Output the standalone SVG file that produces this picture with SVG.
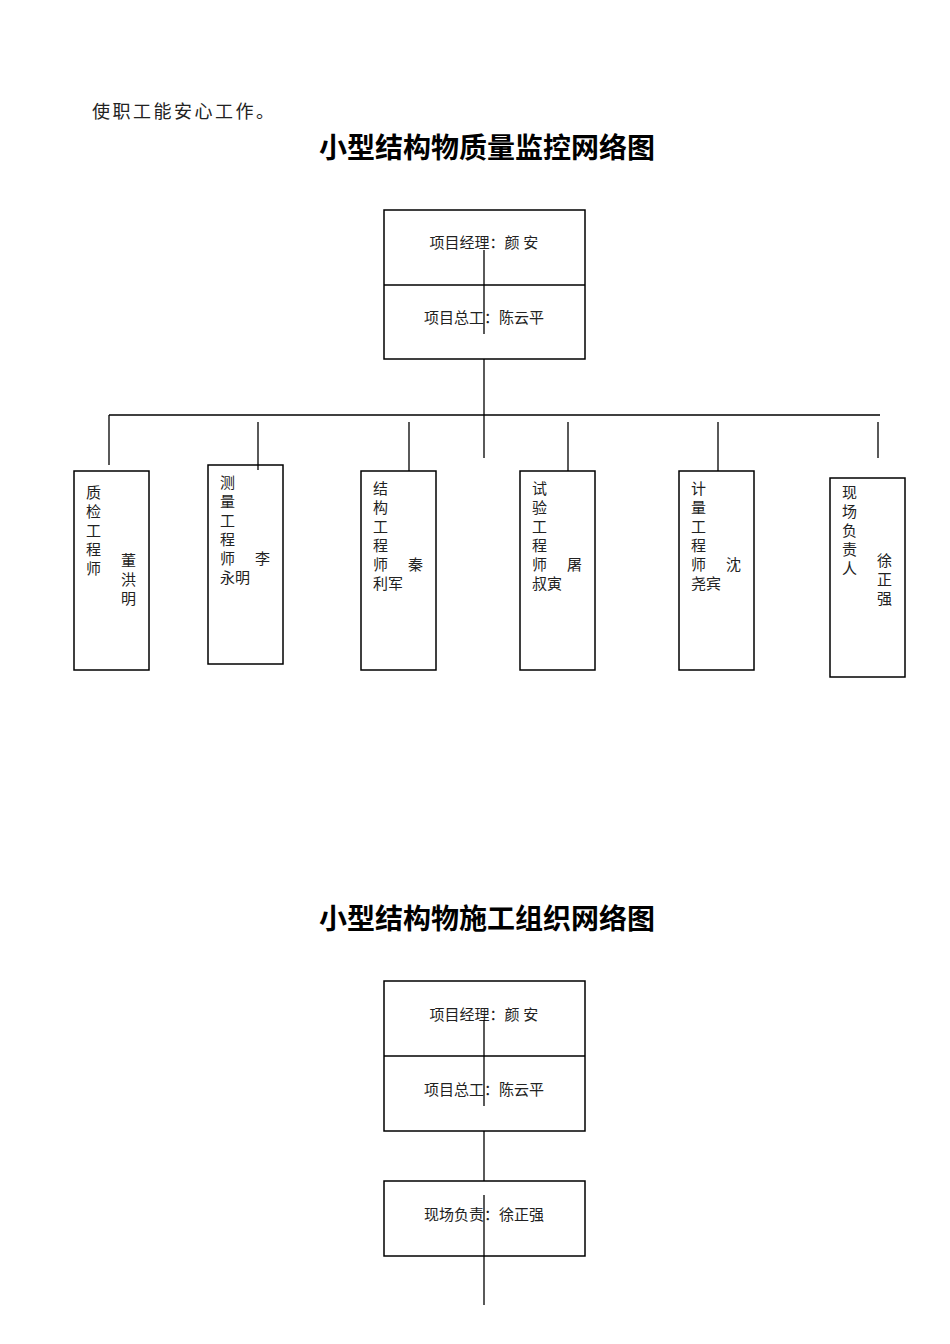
<svg xmlns="http://www.w3.org/2000/svg" width="950" height="1344" viewBox="0 0 950 1344">
<style>
.b{fill:#fff;stroke:#000;stroke-width:1.5}
.t{font-family:"Liberation Serif","Noto Sans CJK SC",serif;font-size:15px;fill:#222}
.h{font-family:"Liberation Serif","Noto Sans CJK SC",serif;font-size:28px;font-weight:bold;text-anchor:middle}
.c line{stroke:#000;stroke-width:1.3}
</style>
<rect width="950" height="1344" fill="#fff"/>
<text x="92" y="118" style="font-family:'Noto Sans CJK SC',sans-serif;font-size:18px;letter-spacing:2.5px;fill:#222">使职工能安心工作。</text>
<text x="487" y="158" class="h">小型结构物质量监控网络图</text>
<text x="487" y="929" class="h">小型结构物施工组织网络图</text>
<g id="top1"><rect class="b" x="384" y="210" width="201" height="149"/><line x1="384" y1="285" x2="585" y2="285" stroke="#000" stroke-width="1.5"/>
<text class="t" x="484" y="248" text-anchor="middle">项目经理：颜 安</text>
<text class="t" x="484" y="323" text-anchor="middle">项目总工：陈云平</text></g>
<g id="n1"><rect class="b" x="74" y="471" width="75" height="199"/>
<text class="t" x="86" y="498">质</text><text class="t" x="86" y="517">检</text><text class="t" x="86" y="536">工</text><text class="t" x="86" y="555">程</text><text class="t" x="86" y="574">师</text>
<text class="t" x="121" y="566">董</text><text class="t" x="121" y="585">洪</text><text class="t" x="121" y="604">明</text></g>
<g id="n2"><rect class="b" x="208" y="465" width="75" height="199"/>
<text class="t" x="220" y="488">测</text><text class="t" x="220" y="507">量</text><text class="t" x="220" y="526">工</text><text class="t" x="220" y="545">程</text><text class="t" x="220" y="564">师</text><text class="t" x="255" y="564">李</text><text class="t" x="220" y="583">永明</text></g>
<g id="n3"><rect class="b" x="361" y="471" width="75" height="199"/>
<text class="t" x="373" y="494">结</text><text class="t" x="373" y="513">构</text><text class="t" x="373" y="532">工</text><text class="t" x="373" y="551">程</text><text class="t" x="373" y="570">师</text><text class="t" x="408" y="570">秦</text><text class="t" x="373" y="589">利军</text></g>
<g id="n4"><rect class="b" x="520" y="471" width="75" height="199"/>
<text class="t" x="532" y="494">试</text><text class="t" x="532" y="513">验</text><text class="t" x="532" y="532">工</text><text class="t" x="532" y="551">程</text><text class="t" x="532" y="570">师</text><text class="t" x="567" y="570">屠</text><text class="t" x="532" y="589">叔寅</text></g>
<g id="n5"><rect class="b" x="679" y="471" width="75" height="199"/>
<text class="t" x="691" y="494">计</text><text class="t" x="691" y="513">量</text><text class="t" x="691" y="532">工</text><text class="t" x="691" y="551">程</text><text class="t" x="691" y="570">师</text><text class="t" x="726" y="570">沈</text><text class="t" x="691" y="589">尧宾</text></g>
<g id="n6"><rect class="b" x="830" y="478" width="75" height="199"/>
<text class="t" x="842" y="498">现</text><text class="t" x="842" y="517">场</text><text class="t" x="842" y="536">负</text><text class="t" x="842" y="555">责</text><text class="t" x="842" y="574">人</text>
<text class="t" x="877" y="566">徐</text><text class="t" x="877" y="585">正</text><text class="t" x="877" y="604">强</text></g>
<g id="top2"><rect class="b" x="384" y="981" width="201" height="150"/><line x1="384" y1="1056" x2="585" y2="1056" stroke="#000" stroke-width="1.5"/>
<text class="t" x="484" y="1020" text-anchor="middle">项目经理：颜 安</text>
<text class="t" x="484" y="1095" text-anchor="middle">项目总工：陈云平</text></g>
<g id="site2"><rect class="b" x="384" y="1181" width="201" height="75"/>
<text class="t" x="484" y="1220" text-anchor="middle">现场负责：徐正强</text></g>
<g class="c" id="connectors">
<line x1="484" y1="250" x2="484" y2="334"/>
<line x1="484" y1="359" x2="484" y2="458"/>
<line x1="109" y1="415" x2="880" y2="415"/>
<line x1="109" y1="415" x2="109" y2="465"/>
<line x1="258" y1="422" x2="258" y2="470"/>
<line x1="409" y1="422" x2="409" y2="471"/>
<line x1="568" y1="422" x2="568" y2="471"/>
<line x1="718" y1="422" x2="718" y2="471"/>
<line x1="878" y1="422" x2="878" y2="458"/>
<line x1="484" y1="1020" x2="484" y2="1106"/>
<line x1="484" y1="1131" x2="484" y2="1181"/>
<line x1="484" y1="1195" x2="484" y2="1305"/>
</g>
</svg>
